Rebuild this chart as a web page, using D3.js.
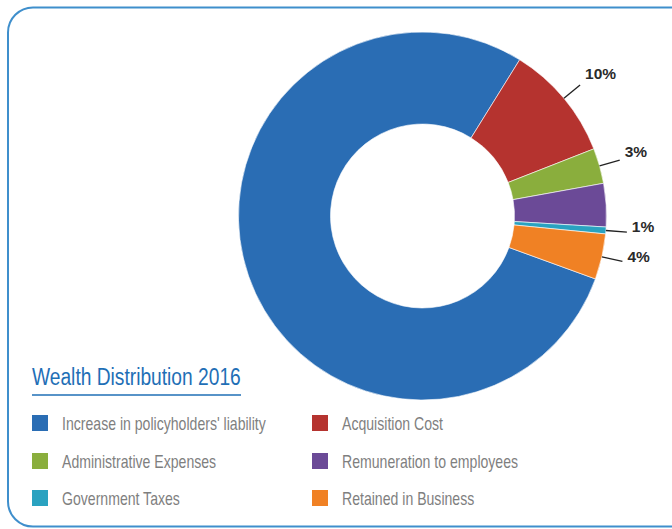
<!DOCTYPE html>
<html>
<head>
<meta charset="utf-8">
<script src="https://cdn.jsdelivr.net/npm/d3@7"></script>
<style>
  html, body { margin: 0; padding: 0; background: #ffffff; }
  svg { display: block; }
</style>
</head>
<body>
<svg id="chart" width="672" height="529"></svg>
<script>
// Wealth distribution 2016 (share of total, %)
const categories = [
  "Increase in policyholders' liability",
  "Acquisition Cost",
  "Administrative Expenses",
  "Remuneration to employees",
  "Government Taxes",
  "Retained in Business"
];
const values = [78.3, 10.2, 3.1, 3.8, 0.6, 4.0];
const colors = ["#2a6db4", "#b5332f", "#8aae3d", "#6b4a97", "#2aa2c0", "#f08124"];
const showLabel = [false, true, true, false, true, true];
const chartTitle = "Wealth Distribution 2016";

const svg = d3.select("#chart");

// Rounded frame
svg.append("rect")
  .attr("x", 8).attr("y", 7.5)
  .attr("width", 720).attr("height", 519)
  .attr("rx", 25).attr("ry", 25)
  .attr("fill", "none")
  .attr("stroke", "#3f8fcc")
  .attr("stroke-width", 2);

// Donut
const cx = 422.5, cy = 216, outerR = 184, innerR = 92;
const deg = Math.PI / 180;
const data = categories.map((c, i) => ({ name: c, value: values[i], color: colors[i], label: showLabel[i] }));

const pie = d3.pie()
  .value(d => d.value)
  .sort(null)
  .startAngle(-250 * deg)
  .endAngle(110 * deg);

const arc = d3.arc().innerRadius(innerR).outerRadius(outerR);
const arcs = pie(data);

const g = svg.append("g").attr("transform", `translate(${cx},${cy})`);

g.selectAll("path.slice")
  .data(arcs)
  .join("path")
  .attr("class", "slice")
  .attr("d", arc)
  .attr("fill", d => d.data.color)
  .attr("stroke", "#ffffff")
  .attr("stroke-width", 0.6);

// Leader lines and percentage labels
const lineOuter = 205;
const labelled = arcs.filter(d => d.data.label);
const mid = d => (d.startAngle + d.endAngle) / 2;

g.selectAll("line.leader")
  .data(labelled)
  .join("line")
  .attr("class", "leader")
  .attr("x1", d => outerR * Math.sin(mid(d)))
  .attr("y1", d => -outerR * Math.cos(mid(d)))
  .attr("x2", d => lineOuter * Math.sin(mid(d)))
  .attr("y2", d => -lineOuter * Math.cos(mid(d)))
  .attr("stroke", "#222")
  .attr("stroke-width", 1.3);

g.selectAll("text.pct")
  .data(labelled)
  .join("text")
  .attr("class", "pct")
  .attr("x", d => lineOuter * Math.sin(mid(d)) + 5)
  .attr("y", d => -lineOuter * Math.cos(mid(d)) - 7 * Math.cos(mid(d)) - 1)
  .attr("font-family", "'Liberation Sans', Arial, sans-serif")
  .attr("font-weight", "bold")
  .attr("font-size", 15.5)
  .attr("fill", "#2a2a2a")
  .text(d => Math.round(d.data.value) + "%");

// Legend (condensed lettering)
const sans = "'Liberation Sans', Arial, sans-serif";

svg.append("text")
  .attr("transform", "translate(32,385) scale(0.835,1)")
  .attr("font-family", sans)
  .attr("font-size", 23)
  .attr("fill", "#1f6fb6")
  .text(chartTitle);

svg.append("line")
  .attr("x1", 32).attr("x2", 241)
  .attr("y1", 395).attr("y2", 395)
  .attr("stroke", "#1f6fb6")
  .attr("stroke-width", 1.5);

const colX = [32, 312];
const rowY = [423, 461, 498];

const items = svg.selectAll("g.legend-item")
  .data(data)
  .join("g")
  .attr("class", "legend-item")
  .attr("transform", (d, i) => `translate(${colX[i % 2]},${rowY[Math.floor(i / 2)]})`);

items.append("rect")
  .attr("x", 0).attr("y", -8)
  .attr("width", 16).attr("height", 16)
  .attr("fill", d => d.color);

items.append("text")
  .attr("transform", "translate(30,6.5) scale(0.805,1)")
  .attr("font-family", sans)
  .attr("font-size", 17.5)
  .attr("fill", "#7f7f7f")
  .text(d => d.name);
</script>
</body>
</html>
